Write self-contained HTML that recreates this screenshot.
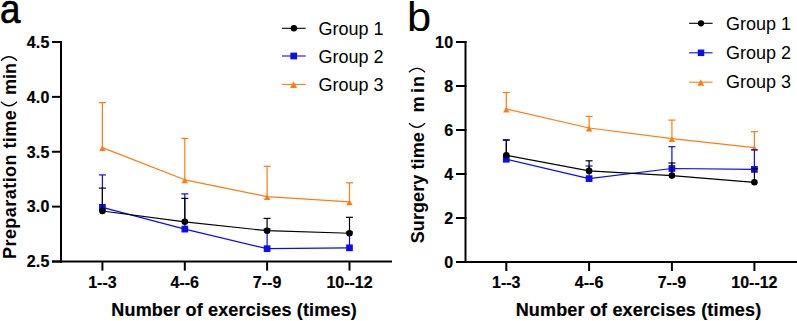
<!DOCTYPE html>
<html><head><meta charset="utf-8"><style>
html,body{margin:0;padding:0;background:#fff;}
body{width:797px;height:321px;overflow:hidden;}
svg{display:block;font-family:"Liberation Sans",sans-serif;}
</style></head><body>
<svg width="797" height="321" viewBox="0 0 797 321">
<line x1="61" y1="41" x2="61" y2="262.5" stroke="#000000" stroke-width="2" stroke-linecap="butt"/>
<line x1="52" y1="261.5" x2="392" y2="261.5" stroke="#000000" stroke-width="2" stroke-linecap="butt"/>
<line x1="52" y1="261.5" x2="62" y2="261.5" stroke="#000000" stroke-width="2" stroke-linecap="butt"/>
<text x="49.8" y="267.3" font-size="16" font-weight="bold" text-anchor="end" stroke="#000" stroke-width="0.2" letter-spacing="0.3">2.5</text>
<line x1="52" y1="206.62" x2="62" y2="206.62" stroke="#000000" stroke-width="2" stroke-linecap="butt"/>
<text x="49.8" y="212.43" font-size="16" font-weight="bold" text-anchor="end" stroke="#000" stroke-width="0.2" letter-spacing="0.3">3.0</text>
<line x1="52" y1="151.75" x2="62" y2="151.75" stroke="#000000" stroke-width="2" stroke-linecap="butt"/>
<text x="49.8" y="157.55" font-size="16" font-weight="bold" text-anchor="end" stroke="#000" stroke-width="0.2" letter-spacing="0.3">3.5</text>
<line x1="52" y1="96.88" x2="62" y2="96.88" stroke="#000000" stroke-width="2" stroke-linecap="butt"/>
<text x="49.8" y="102.67" font-size="16" font-weight="bold" text-anchor="end" stroke="#000" stroke-width="0.2" letter-spacing="0.3">4.0</text>
<line x1="52" y1="42" x2="62" y2="42" stroke="#000000" stroke-width="2" stroke-linecap="butt"/>
<text x="49.8" y="47.8" font-size="16" font-weight="bold" text-anchor="end" stroke="#000" stroke-width="0.2" letter-spacing="0.3">4.5</text>
<line x1="102.4" y1="261.5" x2="102.4" y2="270.6" stroke="#000000" stroke-width="2" stroke-linecap="butt"/>
<text x="102.4" y="288.2" font-size="16" font-weight="bold" text-anchor="middle" stroke="#000" stroke-width="0.2" >1--3</text>
<line x1="184.8" y1="261.5" x2="184.8" y2="270.6" stroke="#000000" stroke-width="2" stroke-linecap="butt"/>
<text x="184.8" y="288.2" font-size="16" font-weight="bold" text-anchor="middle" stroke="#000" stroke-width="0.2" >4--6</text>
<line x1="267.1" y1="261.5" x2="267.1" y2="270.6" stroke="#000000" stroke-width="2" stroke-linecap="butt"/>
<text x="267.1" y="288.2" font-size="16" font-weight="bold" text-anchor="middle" stroke="#000" stroke-width="0.2" >7--9</text>
<line x1="349.5" y1="261.5" x2="349.5" y2="270.6" stroke="#000000" stroke-width="2" stroke-linecap="butt"/>
<text x="349.5" y="288.2" font-size="16" font-weight="bold" text-anchor="middle" stroke="#000" stroke-width="0.2" >10--12</text>
<text x="111.3" y="316.3" font-size="18" font-weight="bold" text-anchor="start" stroke="#000" stroke-width="0.2" letter-spacing="0.17">Number of exercises (times)</text>
<g transform="translate(15.6,259) rotate(-90)">
<text x="0" y="0" font-size="18" font-weight="bold" letter-spacing="0.45">Preparation time</text>
<path d="M157.2,-14.6 Q149.2,-6.6 157.2,1.4" fill="none" stroke="#000" stroke-width="1.3"/>
<text x="163.9" y="0" font-size="18" font-weight="bold">min</text>
<path d="M198.3,-14.6 Q206.3,-6.6 198.3,1.4" fill="none" stroke="#000" stroke-width="1.3"/>
</g>
<text transform="translate(-0.28,23.4) scale(0.885,1)" x="0.3" y="-0.3" font-size="41.5" stroke="#000" stroke-width="0.7">a</text>
<polyline points="102.4,147.6 184.8,179.8 267.1,196.6 349.5,201.8" fill="none" stroke="#ff7d14" stroke-width="1.2" stroke-linejoin="round"/>
<line x1="102.4" y1="147.6" x2="102.4" y2="102.6" stroke="#ff7d14" stroke-width="1.2" stroke-linecap="butt"/>
<line x1="98.9" y1="102.6" x2="105.9" y2="102.6" stroke="#ff7d14" stroke-width="1.2" stroke-linecap="butt"/>
<line x1="184.8" y1="179.8" x2="184.8" y2="138.4" stroke="#ff7d14" stroke-width="1.2" stroke-linecap="butt"/>
<line x1="181.3" y1="138.4" x2="188.3" y2="138.4" stroke="#ff7d14" stroke-width="1.2" stroke-linecap="butt"/>
<line x1="267.1" y1="196.6" x2="267.1" y2="166.3" stroke="#ff7d14" stroke-width="1.2" stroke-linecap="butt"/>
<line x1="263.6" y1="166.3" x2="270.6" y2="166.3" stroke="#ff7d14" stroke-width="1.2" stroke-linecap="butt"/>
<line x1="349.5" y1="201.8" x2="349.5" y2="182.8" stroke="#ff7d14" stroke-width="1.2" stroke-linecap="butt"/>
<line x1="346" y1="182.8" x2="353" y2="182.8" stroke="#ff7d14" stroke-width="1.2" stroke-linecap="butt"/>
<polygon points="99.2,151.1 105.6,151.1 102.4,145.3" fill="#ff7d14"/>
<polygon points="181.6,183.3 188,183.3 184.8,177.5" fill="#ff7d14"/>
<polygon points="263.9,200.1 270.3,200.1 267.1,194.3" fill="#ff7d14"/>
<polygon points="346.3,205.3 352.7,205.3 349.5,199.5" fill="#ff7d14"/>
<polyline points="102.4,207.3 184.8,229.1 267.1,248.7 349.5,247.8" fill="none" stroke="#0b0bf5" stroke-width="1.2" stroke-linejoin="round"/>
<line x1="102.4" y1="207.3" x2="102.4" y2="174.9" stroke="#0b0bf5" stroke-width="1.2" stroke-linecap="butt"/>
<line x1="98.9" y1="174.9" x2="105.9" y2="174.9" stroke="#0b0bf5" stroke-width="1.2" stroke-linecap="butt"/>
<line x1="184.8" y1="229.1" x2="184.8" y2="193.9" stroke="#0b0bf5" stroke-width="1.2" stroke-linecap="butt"/>
<line x1="181.3" y1="193.9" x2="188.3" y2="193.9" stroke="#0b0bf5" stroke-width="1.2" stroke-linecap="butt"/>
<line x1="267.1" y1="248.7" x2="267.1" y2="229" stroke="#0b0bf5" stroke-width="1.2" stroke-linecap="butt"/>
<line x1="263.6" y1="229" x2="270.6" y2="229" stroke="#0b0bf5" stroke-width="1.2" stroke-linecap="butt"/>
<line x1="349.5" y1="247.8" x2="349.5" y2="232" stroke="#0b0bf5" stroke-width="1.2" stroke-linecap="butt"/>
<line x1="346" y1="232" x2="353" y2="232" stroke="#0b0bf5" stroke-width="1.2" stroke-linecap="butt"/>
<rect x="99.05" y="203.95" width="6.7" height="6.7" fill="#0b0bf5"/>
<rect x="181.45" y="225.75" width="6.7" height="6.7" fill="#0b0bf5"/>
<rect x="263.75" y="245.35" width="6.7" height="6.7" fill="#0b0bf5"/>
<rect x="346.15" y="244.45" width="6.7" height="6.7" fill="#0b0bf5"/>
<polyline points="102.4,211 184.8,221.8 267.1,230.7 349.5,233.25" fill="none" stroke="#000000" stroke-width="1.2" stroke-linejoin="round"/>
<line x1="102.4" y1="211" x2="102.4" y2="188.1" stroke="#000000" stroke-width="1.2" stroke-linecap="butt"/>
<line x1="98.9" y1="188.1" x2="105.9" y2="188.1" stroke="#000000" stroke-width="1.2" stroke-linecap="butt"/>
<line x1="184.8" y1="221.8" x2="184.8" y2="198.4" stroke="#000000" stroke-width="1.2" stroke-linecap="butt"/>
<line x1="181.3" y1="198.4" x2="188.3" y2="198.4" stroke="#000000" stroke-width="1.2" stroke-linecap="butt"/>
<line x1="267.1" y1="230.7" x2="267.1" y2="218.4" stroke="#000000" stroke-width="1.2" stroke-linecap="butt"/>
<line x1="263.6" y1="218.4" x2="270.6" y2="218.4" stroke="#000000" stroke-width="1.2" stroke-linecap="butt"/>
<line x1="349.5" y1="233.25" x2="349.5" y2="217.3" stroke="#000000" stroke-width="1.2" stroke-linecap="butt"/>
<line x1="346" y1="217.3" x2="353" y2="217.3" stroke="#000000" stroke-width="1.2" stroke-linecap="butt"/>
<circle cx="102.4" cy="211" r="3.3" fill="#000000"/>
<circle cx="184.8" cy="221.8" r="3.3" fill="#000000"/>
<circle cx="267.1" cy="230.7" r="3.3" fill="#000000"/>
<circle cx="349.5" cy="233.25" r="3.3" fill="#000000"/>
<line x1="282" y1="28.3" x2="305.7" y2="28.3" stroke="#000000" stroke-width="1.1" stroke-linecap="butt"/>
<circle cx="293.9" cy="28.3" r="3.2" fill="#000000"/>
<text x="318.5" y="35.1" font-size="18" font-weight="normal" text-anchor="start" >Group 1</text>
<line x1="282" y1="56" x2="305.7" y2="56" stroke="#0b0bf5" stroke-width="1.1" stroke-linecap="butt"/>
<rect x="290.35" y="52.65" width="6.7" height="6.7" fill="#0b0bf5"/>
<text x="318.5" y="62.8" font-size="18" font-weight="normal" text-anchor="start" >Group 2</text>
<line x1="282" y1="84.4" x2="305.7" y2="84.4" stroke="#ff7d14" stroke-width="1.1" stroke-linecap="butt"/>
<polygon points="290.1,87.9 297.1,87.9 293.6,81.2" fill="#ff7d14"/>
<text x="318.5" y="91.2" font-size="18" font-weight="normal" text-anchor="start" >Group 3</text>
<line x1="465.5" y1="41" x2="465.5" y2="263" stroke="#000000" stroke-width="2" stroke-linecap="butt"/>
<line x1="456" y1="262" x2="797" y2="262" stroke="#000000" stroke-width="2" stroke-linecap="butt"/>
<line x1="456" y1="262" x2="466.5" y2="262" stroke="#000000" stroke-width="2" stroke-linecap="butt"/>
<text x="453.5" y="267.8" font-size="16" font-weight="bold" text-anchor="end" stroke="#000" stroke-width="0.2" letter-spacing="0.3">0</text>
<line x1="456" y1="218" x2="466.5" y2="218" stroke="#000000" stroke-width="2" stroke-linecap="butt"/>
<text x="453.5" y="223.8" font-size="16" font-weight="bold" text-anchor="end" stroke="#000" stroke-width="0.2" letter-spacing="0.3">2</text>
<line x1="456" y1="174" x2="466.5" y2="174" stroke="#000000" stroke-width="2" stroke-linecap="butt"/>
<text x="453.5" y="179.8" font-size="16" font-weight="bold" text-anchor="end" stroke="#000" stroke-width="0.2" letter-spacing="0.3">4</text>
<line x1="456" y1="130" x2="466.5" y2="130" stroke="#000000" stroke-width="2" stroke-linecap="butt"/>
<text x="453.5" y="135.8" font-size="16" font-weight="bold" text-anchor="end" stroke="#000" stroke-width="0.2" letter-spacing="0.3">6</text>
<line x1="456" y1="86" x2="466.5" y2="86" stroke="#000000" stroke-width="2" stroke-linecap="butt"/>
<text x="453.5" y="91.8" font-size="16" font-weight="bold" text-anchor="end" stroke="#000" stroke-width="0.2" letter-spacing="0.3">8</text>
<line x1="456" y1="42" x2="466.5" y2="42" stroke="#000000" stroke-width="2" stroke-linecap="butt"/>
<text x="453.5" y="47.8" font-size="16" font-weight="bold" text-anchor="end" stroke="#000" stroke-width="0.2" letter-spacing="0.3">10</text>
<line x1="506.3" y1="262" x2="506.3" y2="271" stroke="#000000" stroke-width="2" stroke-linecap="butt"/>
<text x="506.3" y="288.2" font-size="16" font-weight="bold" text-anchor="middle" stroke="#000" stroke-width="0.2" >1--3</text>
<line x1="589.1" y1="262" x2="589.1" y2="271" stroke="#000000" stroke-width="2" stroke-linecap="butt"/>
<text x="589.1" y="288.2" font-size="16" font-weight="bold" text-anchor="middle" stroke="#000" stroke-width="0.2" >4--6</text>
<line x1="671.9" y1="262" x2="671.9" y2="271" stroke="#000000" stroke-width="2" stroke-linecap="butt"/>
<text x="671.9" y="288.2" font-size="16" font-weight="bold" text-anchor="middle" stroke="#000" stroke-width="0.2" >7--9</text>
<line x1="754.4" y1="262" x2="754.4" y2="271" stroke="#000000" stroke-width="2" stroke-linecap="butt"/>
<text x="754.4" y="288.2" font-size="16" font-weight="bold" text-anchor="middle" stroke="#000" stroke-width="0.2" >10--12</text>
<text x="515.7" y="316.3" font-size="18" font-weight="bold" text-anchor="start" stroke="#000" stroke-width="0.2" letter-spacing="0.17">Number of exercises (times)</text>
<g transform="translate(423.8,243.3) rotate(-90)">
<text x="0" y="0" font-size="18" font-weight="bold" letter-spacing="0.1">Surgery time</text>
<path d="M120,-14.8 Q112,-6.8 120,1.2" fill="none" stroke="#000" stroke-width="1.3"/>
<text x="130.9" y="0" font-size="18" font-weight="bold">m</text>
<text x="150.3" y="0" font-size="18" font-weight="bold">i</text>
<text x="156.3" y="0" font-size="18" font-weight="bold">n</text>
<path d="M171,-14.8 Q179,-6.8 171,1.2" fill="none" stroke="#000" stroke-width="1.3"/>
</g>
<text transform="translate(406.9,31.4) scale(1.055,1)" x="0" y="0" font-size="41.3">b</text>
<polyline points="506.3,108.9 589.1,128 671.9,138.6 754.4,147.6" fill="none" stroke="#ff7d14" stroke-width="1.2" stroke-linejoin="round"/>
<line x1="506.3" y1="108.9" x2="506.3" y2="92.5" stroke="#ff7d14" stroke-width="1.2" stroke-linecap="butt"/>
<line x1="502.8" y1="92.5" x2="509.8" y2="92.5" stroke="#ff7d14" stroke-width="1.2" stroke-linecap="butt"/>
<line x1="589.1" y1="128" x2="589.1" y2="116.4" stroke="#ff7d14" stroke-width="1.2" stroke-linecap="butt"/>
<line x1="585.6" y1="116.4" x2="592.6" y2="116.4" stroke="#ff7d14" stroke-width="1.2" stroke-linecap="butt"/>
<line x1="671.9" y1="138.6" x2="671.9" y2="120.1" stroke="#ff7d14" stroke-width="1.2" stroke-linecap="butt"/>
<line x1="668.4" y1="120.1" x2="675.4" y2="120.1" stroke="#ff7d14" stroke-width="1.2" stroke-linecap="butt"/>
<line x1="754.4" y1="147.6" x2="754.4" y2="131.7" stroke="#ff7d14" stroke-width="1.2" stroke-linecap="butt"/>
<line x1="750.9" y1="131.7" x2="757.9" y2="131.7" stroke="#ff7d14" stroke-width="1.2" stroke-linecap="butt"/>
<polygon points="503.1,112.4 509.5,112.4 506.3,106.6" fill="#ff7d14"/>
<polygon points="585.9,131.5 592.3,131.5 589.1,125.7" fill="#ff7d14"/>
<polygon points="668.7,142.1 675.1,142.1 671.9,136.3" fill="#ff7d14"/>
<polygon points="751.2,151.1 757.6,151.1 754.4,145.3" fill="#ff7d14"/>
<polyline points="506.3,159.25 589.1,178.6 671.9,168.5 754.4,169.4" fill="none" stroke="#0b0bf5" stroke-width="1.2" stroke-linejoin="round"/>
<line x1="506.3" y1="159.25" x2="506.3" y2="140" stroke="#0b0bf5" stroke-width="1.2" stroke-linecap="butt"/>
<line x1="502.8" y1="140" x2="509.8" y2="140" stroke="#0b0bf5" stroke-width="1.2" stroke-linecap="butt"/>
<line x1="589.1" y1="178.6" x2="589.1" y2="166" stroke="#0b0bf5" stroke-width="1.2" stroke-linecap="butt"/>
<line x1="585.6" y1="166" x2="592.6" y2="166" stroke="#0b0bf5" stroke-width="1.2" stroke-linecap="butt"/>
<line x1="671.9" y1="168.5" x2="671.9" y2="146.7" stroke="#0b0bf5" stroke-width="1.2" stroke-linecap="butt"/>
<line x1="668.4" y1="146.7" x2="675.4" y2="146.7" stroke="#0b0bf5" stroke-width="1.2" stroke-linecap="butt"/>
<line x1="754.4" y1="169.4" x2="754.4" y2="149.8" stroke="#0b0bf5" stroke-width="1.2" stroke-linecap="butt"/>
<line x1="750.9" y1="149.8" x2="757.9" y2="149.8" stroke="#0b0bf5" stroke-width="1.2" stroke-linecap="butt"/>
<rect x="502.95" y="155.9" width="6.7" height="6.7" fill="#0b0bf5"/>
<rect x="585.75" y="175.25" width="6.7" height="6.7" fill="#0b0bf5"/>
<rect x="668.55" y="165.15" width="6.7" height="6.7" fill="#0b0bf5"/>
<rect x="751.05" y="166.05" width="6.7" height="6.7" fill="#0b0bf5"/>
<polyline points="506.3,155.3 589.1,170.9 671.9,175.6 754.4,182.3" fill="none" stroke="#000000" stroke-width="1.2" stroke-linejoin="round"/>
<line x1="506.3" y1="155.3" x2="506.3" y2="140" stroke="#000000" stroke-width="1.2" stroke-linecap="butt"/>
<line x1="502.8" y1="140" x2="509.8" y2="140" stroke="#000000" stroke-width="1.2" stroke-linecap="butt"/>
<line x1="589.1" y1="170.9" x2="589.1" y2="160.8" stroke="#000000" stroke-width="1.2" stroke-linecap="butt"/>
<line x1="585.6" y1="160.8" x2="592.6" y2="160.8" stroke="#000000" stroke-width="1.2" stroke-linecap="butt"/>
<line x1="671.9" y1="175.6" x2="671.9" y2="163" stroke="#000000" stroke-width="1.2" stroke-linecap="butt"/>
<line x1="668.4" y1="163" x2="675.4" y2="163" stroke="#000000" stroke-width="1.2" stroke-linecap="butt"/>
<line x1="754.4" y1="182.3" x2="754.4" y2="168.7" stroke="#000000" stroke-width="1.2" stroke-linecap="butt"/>
<line x1="750.9" y1="168.7" x2="757.9" y2="168.7" stroke="#000000" stroke-width="1.2" stroke-linecap="butt"/>
<circle cx="506.3" cy="155.3" r="3.3" fill="#000000"/>
<circle cx="589.1" cy="170.9" r="3.3" fill="#000000"/>
<circle cx="671.9" cy="175.6" r="3.3" fill="#000000"/>
<circle cx="754.4" cy="182.3" r="3.3" fill="#000000"/>
<line x1="689.1" y1="23.3" x2="712.6" y2="23.3" stroke="#000000" stroke-width="1.1" stroke-linecap="butt"/>
<circle cx="701" cy="23.3" r="3.1" fill="#000000"/>
<text x="726" y="29.5" font-size="18" font-weight="normal" text-anchor="start" >Group 1</text>
<line x1="689.1" y1="52.8" x2="712.6" y2="52.8" stroke="#0b0bf5" stroke-width="1.1" stroke-linecap="butt"/>
<rect x="697.75" y="49.55" width="6.5" height="6.5" fill="#0b0bf5"/>
<text x="726" y="59" font-size="18" font-weight="normal" text-anchor="start" >Group 2</text>
<line x1="689.1" y1="82.2" x2="712.6" y2="82.2" stroke="#ff7d14" stroke-width="1.1" stroke-linecap="butt"/>
<polygon points="697.5,85.7 704.1,85.7 700.8,79.2" fill="#ff7d14"/>
<text x="726" y="88.4" font-size="18" font-weight="normal" text-anchor="start" >Group 3</text>
</svg>
</body></html>
